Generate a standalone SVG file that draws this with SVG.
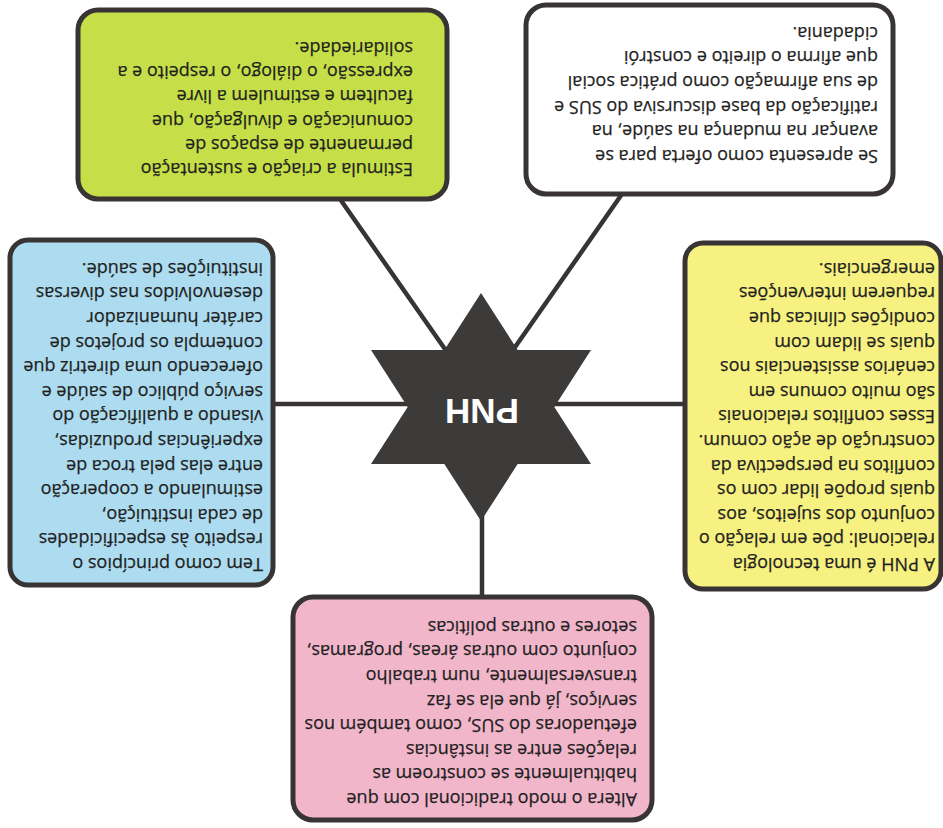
<svg xmlns="http://www.w3.org/2000/svg" width="943" height="828" viewBox="0 0 943 828">
<style>
.box{stroke:#383434;stroke-width:5;}
.conn{stroke:#383434;stroke-width:4.5;fill:none;stroke-linecap:round;}
.t{font-family:"Open Sans","Noto Sans","Liberation Sans",sans-serif;font-size:18px;fill:#1f1f1f;stroke:#1f1f1f;stroke-width:0.25;}
.star{fill:#3d3a3a;}
.lbl{font-family:"Liberation Sans","Open Sans",sans-serif;font-weight:bold;font-size:35px;fill:#ffffff;text-anchor:middle;}
</style>
<rect width="943" height="828" fill="#ffffff"/>
<g transform="rotate(180 471.5 414)">
  <g id="connectors">
    <line class="conn" x1="321" y1="634" x2="430" y2="478"/>
    <line class="conn" x1="603" y1="629" x2="496" y2="476"/>
    <line class="conn" x1="670" y1="424" x2="520" y2="424"/>
    <line class="conn" x1="258" y1="424" x2="400" y2="424"/>
    <line class="conn" x1="461" y1="231" x2="461" y2="330"/>
  </g>
  <g id="pnh">
    <polygon class="star" points="462,307 572,478 352,478"/>
    <polygon class="star" points="462,535 352,364 572,364"/>
    <text class="lbl" x="461" y="429">PNH</text>
  </g>
  <g id="node-white">
    <rect class="box" x="50" y="634" width="367" height="189" rx="20" fill="#ffffff"/>
    <text class="t" x="65" y="678">Se apresenta como oferta para se</text>
    <text class="t" x="65" y="703">avançar na mudança na saúde, na</text>
    <text class="t" x="65" y="727">ratificação da base discursiva do SUS e</text>
    <text class="t" x="65" y="752">de sua afirmação como prática social</text>
    <text class="t" x="65" y="777">que afirma o direito e constrói</text>
    <text class="t" x="65" y="801">cidadania.</text>
  </g>
  <g id="node-green">
    <rect class="box" x="496" y="629" width="369" height="189" rx="20" fill="#c6df48"/>
    <text class="t" x="530" y="665">Estimula a criação e sustentação</text>
    <text class="t" x="530" y="689">permanente de espaços de</text>
    <text class="t" x="530" y="713">comunicação e divulgação, que</text>
    <text class="t" x="530" y="738">facultem e estimulem a livre</text>
    <text class="t" x="530" y="762">expressão, o diálogo, o respeito e a</text>
    <text class="t" x="530" y="786">solidariedade.</text>
  </g>
  <g id="node-blue">
    <rect class="box" x="670" y="243" width="263" height="345" rx="18" fill="#addcf0"/>
    <text class="t" x="680" y="270">Tem como princípios o</text>
    <text class="t" x="680" y="294.6">respeito às especificidades</text>
    <text class="t" x="680" y="319.2">de cada instituição,</text>
    <text class="t" x="680" y="343.8">estimulando a cooperação</text>
    <text class="t" x="680" y="368.4">entre elas pela troca de</text>
    <text class="t" x="680" y="393">experiências produzidas,</text>
    <text class="t" x="680" y="417.6">visando a qualificação do</text>
    <text class="t" x="680" y="442.2">serviço público de saúde e</text>
    <text class="t" x="680" y="466.8">oferecendo uma diretriz que</text>
    <text class="t" x="680" y="491.4">contempla os projetos de</text>
    <text class="t" x="680" y="516">caráter humanizador</text>
    <text class="t" x="680" y="540.6">desenvolvidos nas diversas</text>
    <text class="t" x="680" y="565.2">instituições de saúde.</text>
  </g>
  <g id="node-yellow">
    <rect class="box" x="2" y="239" width="256" height="346" rx="18" fill="#f6f180"/>
    <text class="t" x="8" y="270">A PNH é uma tecnologia</text>
    <text class="t" x="8" y="294.6">relacional: põe em relação o</text>
    <text class="t" x="8" y="319.2">conjunto dos sujeitos, aos</text>
    <text class="t" x="8" y="343.8">quais propõe lidar com os</text>
    <text class="t" x="8" y="368.4">conflitos na perspectiva da</text>
    <text class="t" x="8" y="393">construção de ação comum.</text>
    <text class="t" x="8" y="417.6">Esses conflitos relacionais</text>
    <text class="t" x="8" y="442.2">são muito comuns em</text>
    <text class="t" x="8" y="466.8">cenários assistenciais nos</text>
    <text class="t" x="8" y="491.4">quais se lidam com</text>
    <text class="t" x="8" y="516">condições clínicas que</text>
    <text class="t" x="8" y="540.6">requerem intervenções</text>
    <text class="t" x="8" y="565.2">emergenciais.</text>
  </g>
  <g id="node-pink">
    <rect class="box" x="291" y="8" width="359" height="223" rx="20" fill="#f2b6cb"/>
    <text class="t" x="306" y="35">Altera o modo tradicional com que</text>
    <text class="t" x="306" y="59.6">habitualmente se constroem as</text>
    <text class="t" x="306" y="84.2">relações entre as instâncias</text>
    <text class="t" x="306" y="108.8">efetuadoras do SUS, como também nos</text>
    <text class="t" x="306" y="133.4">serviços, já que ela se faz</text>
    <text class="t" x="306" y="158">transversalmente, num trabalho</text>
    <text class="t" x="306" y="182.6">conjunto com outras áreas, programas,</text>
    <text class="t" x="306" y="207.2">setores e outras políticas</text>
  </g>
</g>
</svg>
